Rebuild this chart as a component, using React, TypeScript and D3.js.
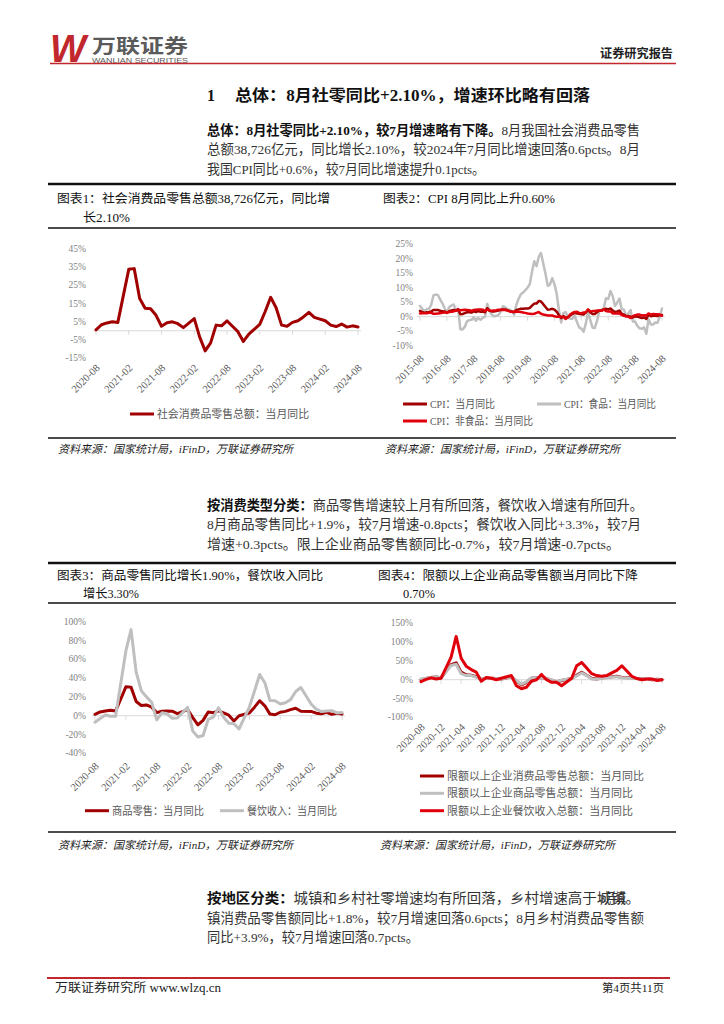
import React from 'react';
import * as d3 from 'd3';

const SERIF = "'Liberation Serif','Noto Sans CJK SC',serif";
const SANS = "'Liberation Sans','Noto Sans CJK SC',sans-serif";

function monthRange(y0: number, m0: number, n: number): string[] {
  const out: string[] = [];
  for (let i = 0; i < n; i++) {
    const t = m0 - 1 + i;
    out.push(`${y0 + Math.floor(t / 12)}-${String((t % 12) + 1).padStart(2, '0')}`);
  }
  return out;
}

// ---------- Chart 1: 社会消费品零售总额 当月同比 (2020-08 .. 2024-08)
const months1 = monthRange(2020, 8, 49);
const retailYoY: (number | null)[] = [
  0.5, 3.3, 4.3, 5.0, 4.6,
  null, 33.8, 34.2, 17.7, 12.4, 12.1, 8.5, 2.5, 4.4, 4.9, 3.9, 1.7,
  null, 6.7, -3.5, -11.1, -6.7, 3.1, 2.7, 5.4, 2.5, -0.5, -5.9, -1.8,
  null, 3.5, 10.6, 18.4, 12.7, 3.1, 2.5, 4.6, 5.5, 7.6, 10.1, 7.4,
  null, 5.5, 3.1, 2.3, 3.7, 2.0, 2.7, 2.1,
];
const ticks1 = ['2020-08', '2021-02', '2021-08', '2022-02', '2022-08', '2023-02', '2023-08', '2024-02', '2024-08'];
const yTicks1 = [-15, -5, 5, 15, 25, 35, 45];

// ---------- Chart 2: CPI (2015-08 .. 2024-08)
const months2 = monthRange(2015, 8, 109);
const cpiYoY: (number | null)[] = [
  2.0, 1.6, 1.3, 1.5, 1.6,
  1.8, 2.3, 2.3, 2.3, 2.0, 1.9, 1.8, 1.3, 1.9, 2.1, 2.3, 2.1,
  2.5, 0.8, 0.9, 1.2, 1.5, 1.5, 1.4, 1.8, 1.6, 1.9, 1.7, 1.8,
  1.5, 2.9, 2.1, 1.8, 1.8, 1.9, 2.1, 2.3, 2.5, 2.5, 2.2, 1.9,
  1.7, 1.5, 2.3, 2.5, 2.7, 2.7, 2.8, 2.8, 3.0, 3.8, 4.5, 4.5,
  5.4, 5.2, 4.3, 3.3, 2.4, 2.5, 2.7, 2.4, 1.7, 0.5, -0.5, 0.2,
  -0.3, -0.2, 0.4, 0.9, 1.3, 1.1, 1.0, 0.8, 0.7, 1.5, 2.3, 1.5,
  0.9, 0.9, 1.5, 2.1, 2.1, 2.5, 2.7, 2.5, 2.8, 2.1, 1.6, 1.8,
  2.1, 1.0, 0.7, 0.1, 0.2, 0.0, -0.3, 0.1, 0.0, -0.2, -0.5, -0.3,
  -0.8, 0.7, 0.1, 0.3, 0.3, 0.2, 0.5, 0.6,
];
const cpiFoodYoY: (number | null)[] = [
  3.7, 2.7, 1.9, 2.6, 2.7,
  4.1, 7.3, 7.6, 7.4, 5.9, 4.6, 2.9, 1.3, 3.2, 3.8, 4.2, 2.4,
  2.7, -4.3, -4.4, -3.5, -1.6, -1.2, -1.1, -0.2, -1.4, -0.4, -1.1, -0.4,
  0.0, 4.4, 2.1, 0.7, 0.1, 0.3, 0.5, 1.7, 3.6, 3.3, 2.5, 2.5,
  1.9, 0.7, 4.1, 6.1, 7.7, 8.3, 9.1, 10.0, 11.2, 15.5, 19.1, 17.4,
  20.6, 21.9, 18.3, 14.8, 10.6, 11.1, 13.2, 11.2, 7.9, 2.2, -2.0, 1.2,
  1.6, -0.2, -0.7, -0.7, 0.3, -1.7, -3.7, -4.1, -5.2, -2.4, 1.6, -1.2,
  -3.8, -3.9, -1.5, 1.9, 2.3, 2.9, 6.3, 6.1, 8.8, 7.0, 3.7, 4.8,
  6.2, 2.6, 2.4, 0.4, 1.0, 2.3, -1.7, -1.7, -3.2, -4.0, -4.2, -3.7,
  -5.9, -0.9, -2.7, -2.7, -2.0, -2.1, 0.0, 2.8,
];
const cpiNonFoodYoY: (number | null)[] = [
  1.1, 1.2, 1.2, 1.2, 1.3,
  1.3, 1.0, 1.0, 1.1, 1.2, 1.3, 1.5, 1.3, 1.6, 1.7, 1.8, 2.0,
  2.4, 2.2, 2.3, 2.4, 2.3, 2.2, 2.0, 2.3, 2.4, 2.5, 2.5, 2.4,
  1.9, 2.5, 2.1, 2.0, 2.1, 2.2, 2.4, 2.4, 2.3, 2.3, 2.1, 1.8,
  1.7, 1.7, 1.8, 1.7, 1.6, 1.4, 1.3, 1.1, 1.0, 0.9, 1.0, 1.3,
  1.6, 1.0, 0.7, 0.6, 0.4, 0.4, 0.4, 0.1, 0.0, 0.0, 0.0, -0.1,
  -0.8, -0.2, 0.7, 1.3, 1.6, 1.7, 1.3, 1.2, 1.4, 1.4, 2.5, 1.8,
  1.9, 1.9, 2.1, 2.1, 2.0, 2.5, 1.9, 1.8, 1.8, 1.1, 1.1, 1.1,
  1.2, 0.6, 0.3, 0.1, 0.0, -0.5, 0.1, 0.5, 0.7, 0.7, 0.4, 0.5,
  0.4, 1.1, 0.7, 0.9, 0.8, 0.8, 0.7, 0.3,
];
const ticks2 = ['2015-08', '2016-08', '2017-08', '2018-08', '2019-08', '2020-08', '2021-08', '2022-08', '2023-08', '2024-08'];
const yTicks2 = [-10, -5, 0, 5, 10, 15, 20, 25];

// ---------- Chart 3: 商品零售 / 餐饮收入 (2020-08 .. 2024-08)
const goodsYoY: (number | null)[] = [
  1.5, 4.0, 4.9, 5.8, 4.9,
  null, 30.7, 30.4, 15.1, 10.9, 11.5, 9.1, 3.3, 4.7, 4.9, 4.8, 2.3,
  null, 6.5, -2.1, -9.7, -5.0, 3.9, 3.2, 5.1, 3.0, 0.5, -5.6, -0.1,
  null, 2.9, 9.1, 15.9, 10.5, 1.7, 1.0, 3.7, 4.6, 6.5, 8.0, 4.8,
  null, 4.6, 2.7, 2.0, 3.6, 1.5, 2.7, 1.9,
];
const cateringYoY: (number | null)[] = [
  -7.0, -2.9, 0.8, -0.6, -0.6,
  null, 68.9, 91.6, 46.4, 26.6, 20.0, 14.3, -4.5, 3.1, 2.0, -2.7, -2.5,
  null, 8.9, -16.4, -22.7, -21.1, -4.0, -1.5, 8.4, -1.7, -8.1, -8.4, -14.1,
  null, 9.2, 26.3, 43.8, 35.1, 16.1, 15.8, 12.4, 13.8, 17.1, 25.8, 30.0,
  null, 12.5, 6.9, 4.4, 5.0, 5.4, 3.0, 3.3,
];
const yTicks3 = [-40, -20, 0, 20, 40, 60, 80, 100];

// ---------- Chart 4: 限额以上企业 (2020-08 .. 2024-08)
const aboveTotalYoY: (number | null)[] = [
  0, 3, 6, 7, 5,
  null, 40, 45, 20, 13, 12, 8, 2, 4, 4, 3, 2,
  null, 7, -3, -14, -7, 4, 5, 6, 3, -1, -6, -2,
  null, 3, 12, 20, 12, 3, 2, 5, 6, 8, 9, 6,
  null, 5, 3, 2, 3, 0, 1, 0,
];
const aboveGoodsYoY: (number | null)[] = [
  2, 4, 6, 7, 6,
  null, 38, 41, 16, 11, 11, 7, 3, 4, 4, 3, 2,
  null, 7, -2, -12, -6, 5, 5, 6, 3, 0, -5, -1,
  null, 3, 10, 18, 11, 2, 1, 4, 5, 7, 8, 5,
  null, 4, 3, 2, 3, 1, 0, -1,
];
const aboveCateringYoY: (number | null)[] = [
  -5, 1, 5, 2, 4,
  null, 60, 115, 57, 36, 27, 20, -4, 6, 4, 0, 4,
  null, 11, -16, -24, -20, -4, 0, 14, 0, -7, -7, -16,
  null, 4, 37, 46, 31, 16, 11, 9, 11, 18, 25, 37,
  null, 9, 3, 0, 2, 2, -2, 0,
];
const ticks4 = ['2020-08', '2020-12', '2021-04', '2021-08', '2021-12', '2022-04', '2022-08', '2022-12', '2023-04', '2023-08', '2023-12', '2024-04', '2024-08'];
const yTicks4 = [-100, -50, 0, 50, 100, 150];

const DARK_RED = '#A00000';
const GRAY = '#BFBFBF';
const RED = '#E0000B';

type Series = { values: (number | null)[]; color: string; width: number };

function LineChart(p: {
  cats: string[]; x0: number; x1: number;
  yMin: number; yMax: number; yTop: number; yBottom: number; yTicks: number[];
  yLabelRight: number; xLabels: string[]; labelDy: number; series: Series[];
}) {
  const x = d3.scalePoint<string>().domain(p.cats).range([p.x0, p.x1]);
  const y = d3.scaleLinear().domain([p.yMin, p.yMax]).range([p.yBottom, p.yTop]);
  const y0 = y(0);
  const line = d3.line<[number, number]>().x(d => d[0]).y(d => d[1]);
  return (
    <g>
      {p.yTicks.map(t => (
        <text key={t} x={p.yLabelRight} y={y(t)} textAnchor="end" dominantBaseline="central"
          fontSize={9.5} fill="#7F7F7F" fontFamily={SERIF}>{`${t}%`}</text>
      ))}
      <line x1={p.x0 - 3} x2={p.x1 + 3} y1={y0} y2={y0} stroke="#D9D9D9" strokeWidth={1} />
      {p.xLabels.map(l => {
        const xx = x(l)!;
        return (
          <g key={l}>
            <line x1={xx} x2={xx} y1={y0} y2={y0 + 4} stroke="#D9D9D9" strokeWidth={1} />
            <text transform={`translate(${xx + 2},${p.yBottom + p.labelDy}) rotate(-45)`} textAnchor="end"
              dominantBaseline="central" fontSize={10.5} fill="#595959" fontFamily={SERIF}>{l}</text>
          </g>
        );
      })}
      {p.series.map((s, i) => {
        const pts: [number, number][] = [];
        s.values.forEach((v, j) => { if (v != null) pts.push([x(p.cats[j])!, y(v)]); });
        return <path key={i} d={line(pts) || ''} fill="none" stroke={s.color} strokeWidth={s.width}
          strokeLinejoin="round" strokeLinecap="round" />;
      })}
    </g>
  );
}

function Legend({ x, y, color, label, textEnd }: { x: number; y: number; color: string; label: string; textEnd?: number }) {
  return (
    <g>
      <line x1={x} x2={x + 24} y1={y} y2={y} stroke={color} strokeWidth={3} />
      <text x={x + 27} y={y} dominantBaseline="central" fontSize={11} fill="#595959" fontFamily={SERIF}
        {...(textEnd ? { textLength: textEnd - x - 27, lengthAdjust: 'spacingAndGlyphs' } : {})}>{label}</text>
    </g>
  );
}

function T({ x, y, end, size = 13.5, bold, children, anchor, fill = '#111', italic, family = SERIF }: any) {
  return (
    <text x={x} y={y} dominantBaseline="central" fontSize={size} fontFamily={family} fill={fill}
      fontWeight={bold ? 'bold' : 'normal'} fontStyle={italic ? 'italic' : 'normal'} textAnchor={anchor}
      {...(end ? { textLength: end - x, lengthAdjust: 'spacingAndGlyphs' } : {})}>{children}</text>
  );
}

const SOURCE = '资料来源：国家统计局，iFinD，万联证券研究所';

export default function App() {
  return (
    <svg width={724} height={1024} style={{ position: 'absolute', left: 0, top: 0, background: '#fff' }}>
      {/* header */}
      <text x={50} y={49} dominantBaseline="central" fontSize={38} fontWeight="bold" fontStyle="italic"
        fontFamily={SANS} fill="#C1272D" textLength={36} lengthAdjust="spacingAndGlyphs">W</text>
      <T x={92} y={44} end={188} size={19} bold fill="#5A5A5A" family="'Noto Sans CJK SC',sans-serif">万联证券</T>
      <T x={92} y={60.5} end={188} size={6.5} fill="#5A5A5A" family={SANS}>WANLIAN SECURITIES</T>
      <line x1={50} x2={676} y1={63.5} y2={63.5} stroke="#C1272D" strokeWidth={1.5} />
      <T x={600} y={54} end={673} size={12.5} bold fill="#222">证券研究报告</T>

      {/* section title */}
      <T x={207} y={95} size={16} bold>1</T>
      <T x={235} y={95} end={590} size={16} bold>总体：8月社零同比+2.10%，增速环比略有回落</T>

      <text x={207} y={130} dominantBaseline="central" fontSize={13.5} fontFamily={SERIF} fill="#111"
        textLength={433} lengthAdjust="spacingAndGlyphs">
        <tspan fontWeight="bold">总体：8月社零同比+2.10%，较7月增速略有下降。</tspan>
        <tspan fill="#333">8月我国社会消费品零售</tspan>
      </text>
      <T x={207} y={149.5} end={640} fill="#333">总额38,726亿元，同比增长2.10%，较2024年7月同比增速回落0.6pcts。8月</T>
      <T x={207} y={169} end={485} fill="#333">我国CPI同比+0.6%，较7月同比增速提升0.1pcts。</T>

      {/* frame top pair */}
      <line x1={48} x2={676} y1={184} y2={184} stroke="#111" strokeWidth={2.5} />
      <T x={57} y={199} end={330} size={12.5}>图表1：社会消费品零售总额38,726亿元，同比增</T>
      <T x={83} y={218} end={130} size={12.5}>长2.10%</T>
      <T x={383} y={199} end={555} size={12.5}>图表2：CPI 8月同比上升0.60%</T>
      <line x1={48} x2={676} y1={228} y2={228} stroke="#111" strokeWidth={1.5} />

      <LineChart cats={months1} x0={96} x1={358} yMin={-15} yMax={45} yTop={249} yBottom={358}
        yTicks={yTicks1} yLabelRight={86} xLabels={ticks1} labelDy={8}
        series={[{ values: retailYoY, color: DARK_RED, width: 3 }]} />
      <Legend x={130} y={414} color={DARK_RED} label="社会消费品零售总额：当月同比" textEnd={309} />

      <LineChart cats={months2} x0={420} x1={662} yMin={-10} yMax={25} yTop={244} yBottom={345.7}
        yTicks={yTicks2} yLabelRight={413} xLabels={ticks2} labelDy={11}
        series={[
          { values: cpiFoodYoY, color: GRAY, width: 2.5 },
          { values: cpiYoY, color: DARK_RED, width: 2.5 },
          { values: cpiNonFoodYoY, color: RED, width: 2.5 },
        ]} />
      <Legend x={403} y={404} color={DARK_RED} label="CPI：当月同比" textEnd={495} />
      <Legend x={537} y={404} color={GRAY} label="CPI：食品：当月同比" textEnd={656} />
      <Legend x={403} y={421} color={RED} label="CPI：非食品：当月同比" textEnd={533} />

      <line x1={48} x2={676} y1={438} y2={438} stroke="#111" strokeWidth={1.5} />
      <T x={58} y={448.5} end={293} size={11} italic fill="#222">{SOURCE}</T>
      <T x={385} y={448.5} end={620} size={11} italic fill="#222">{SOURCE}</T>

      {/* paragraph 2 */}
      <text x={207} y={505} dominantBaseline="central" fontSize={13.5} fontFamily={SERIF} fill="#111"
        textLength={436} lengthAdjust="spacingAndGlyphs">
        <tspan fontWeight="bold">按消费类型分类：</tspan>
        <tspan fill="#333">商品零售增速较上月有所回落，餐饮收入增速有所回升。</tspan>
      </text>
      <T x={207} y={524.5} end={641} fill="#333">8月商品零售同比+1.9%，较7月增速-0.8pcts；餐饮收入同比+3.3%，较7月</T>
      <T x={207} y={544} end={620} fill="#333">增速+0.3pcts。限上企业商品零售额同比-0.7%，较7月增速-0.7pcts。</T>

      {/* frame bottom pair */}
      <line x1={48} x2={676} y1={563} y2={563} stroke="#111" strokeWidth={2.5} />
      <T x={57} y={576} end={323} size={12.5}>图表3：商品零售同比增长1.90%，餐饮收入同比</T>
      <T x={83} y={594} end={139} size={12.5}>增长3.30%</T>
      <T x={378} y={576} end={638} size={12.5}>图表4：限额以上企业商品零售额当月同比下降</T>
      <T x={403} y={594} end={435} size={12.5}>0.70%</T>
      <line x1={48} x2={676} y1={603} y2={603} stroke="#111" strokeWidth={1.5} />

      <LineChart cats={months1} x0={95} x1={342} yMin={-40} yMax={100} yTop={621.7} yBottom={753.3}
        yTicks={yTicks3} yLabelRight={86} xLabels={ticks1} labelDy={11}
        series={[
          { values: goodsYoY, color: DARK_RED, width: 3 },
          { values: cateringYoY, color: GRAY, width: 3 },
        ]} />
      <Legend x={85} y={810.7} color={DARK_RED} label="商品零售：当月同比" textEnd={204} />
      <Legend x={220} y={810.7} color={GRAY} label="餐饮收入：当月同比" textEnd={337} />

      <LineChart cats={months1} x0={421} x1={662} yMin={-100} yMax={150} yTop={623.3} yBottom={717.3}
        yTicks={yTicks4} yLabelRight={413} xLabels={ticks4} labelDy={8}
        series={[
          { values: aboveTotalYoY, color: DARK_RED, width: 3 },
          { values: aboveGoodsYoY, color: GRAY, width: 3 },
          { values: aboveCateringYoY, color: RED, width: 3 },
        ]} />
      <Legend x={420} y={776} color={DARK_RED} label="限额以上企业消费品零售总额：当月同比" textEnd={644} />
      <Legend x={420} y={793.3} color={GRAY} label="限额以上企业商品零售总额：当月同比" textEnd={633} />
      <Legend x={420} y={810.7} color={RED} label="限额以上企业餐饮收入总额：当月同比" textEnd={633} />

      <line x1={48} x2={676} y1={832} y2={832} stroke="#111" strokeWidth={1.5} />
      <T x={58} y={845} end={293} size={11} italic fill="#222">{SOURCE}</T>
      <T x={380} y={845} end={615} size={11} italic fill="#222">{SOURCE}</T>

      {/* paragraph 3 */}
      <text x={207} y={898} dominantBaseline="central" fontSize={13.5} fontFamily={SERIF} fill="#111"
        textLength={433} lengthAdjust="spacingAndGlyphs">
        <tspan fontWeight="bold">按地区分类：</tspan>
        <tspan fill="#333">城镇和乡村社零增速均有所回落，乡村增速高于城镇。</tspan>
      </text>
      <T x={600} y={898} end={626} fill="#333">8月城</T>
      <T x={207} y={918} end={644} fill="#333">镇消费品零售额同比+1.8%，较7月增速回落0.6pcts；8月乡村消费品零售额</T>
      <T x={207} y={937.5} end={419} fill="#333">同比+3.9%，较7月增速回落0.7pcts。</T>

      {/* footer */}
      <line x1={47} x2={670} y1={978} y2={978} stroke="#C1272D" strokeWidth={2} />
      <T x={55} y={988} end={221} size={12} fill="#222">万联证券研究所 www.wlzq.cn</T>
      <T x={602} y={988} end={664} size={11} fill="#222">第4页共11页</T>
    </svg>
  );
}
